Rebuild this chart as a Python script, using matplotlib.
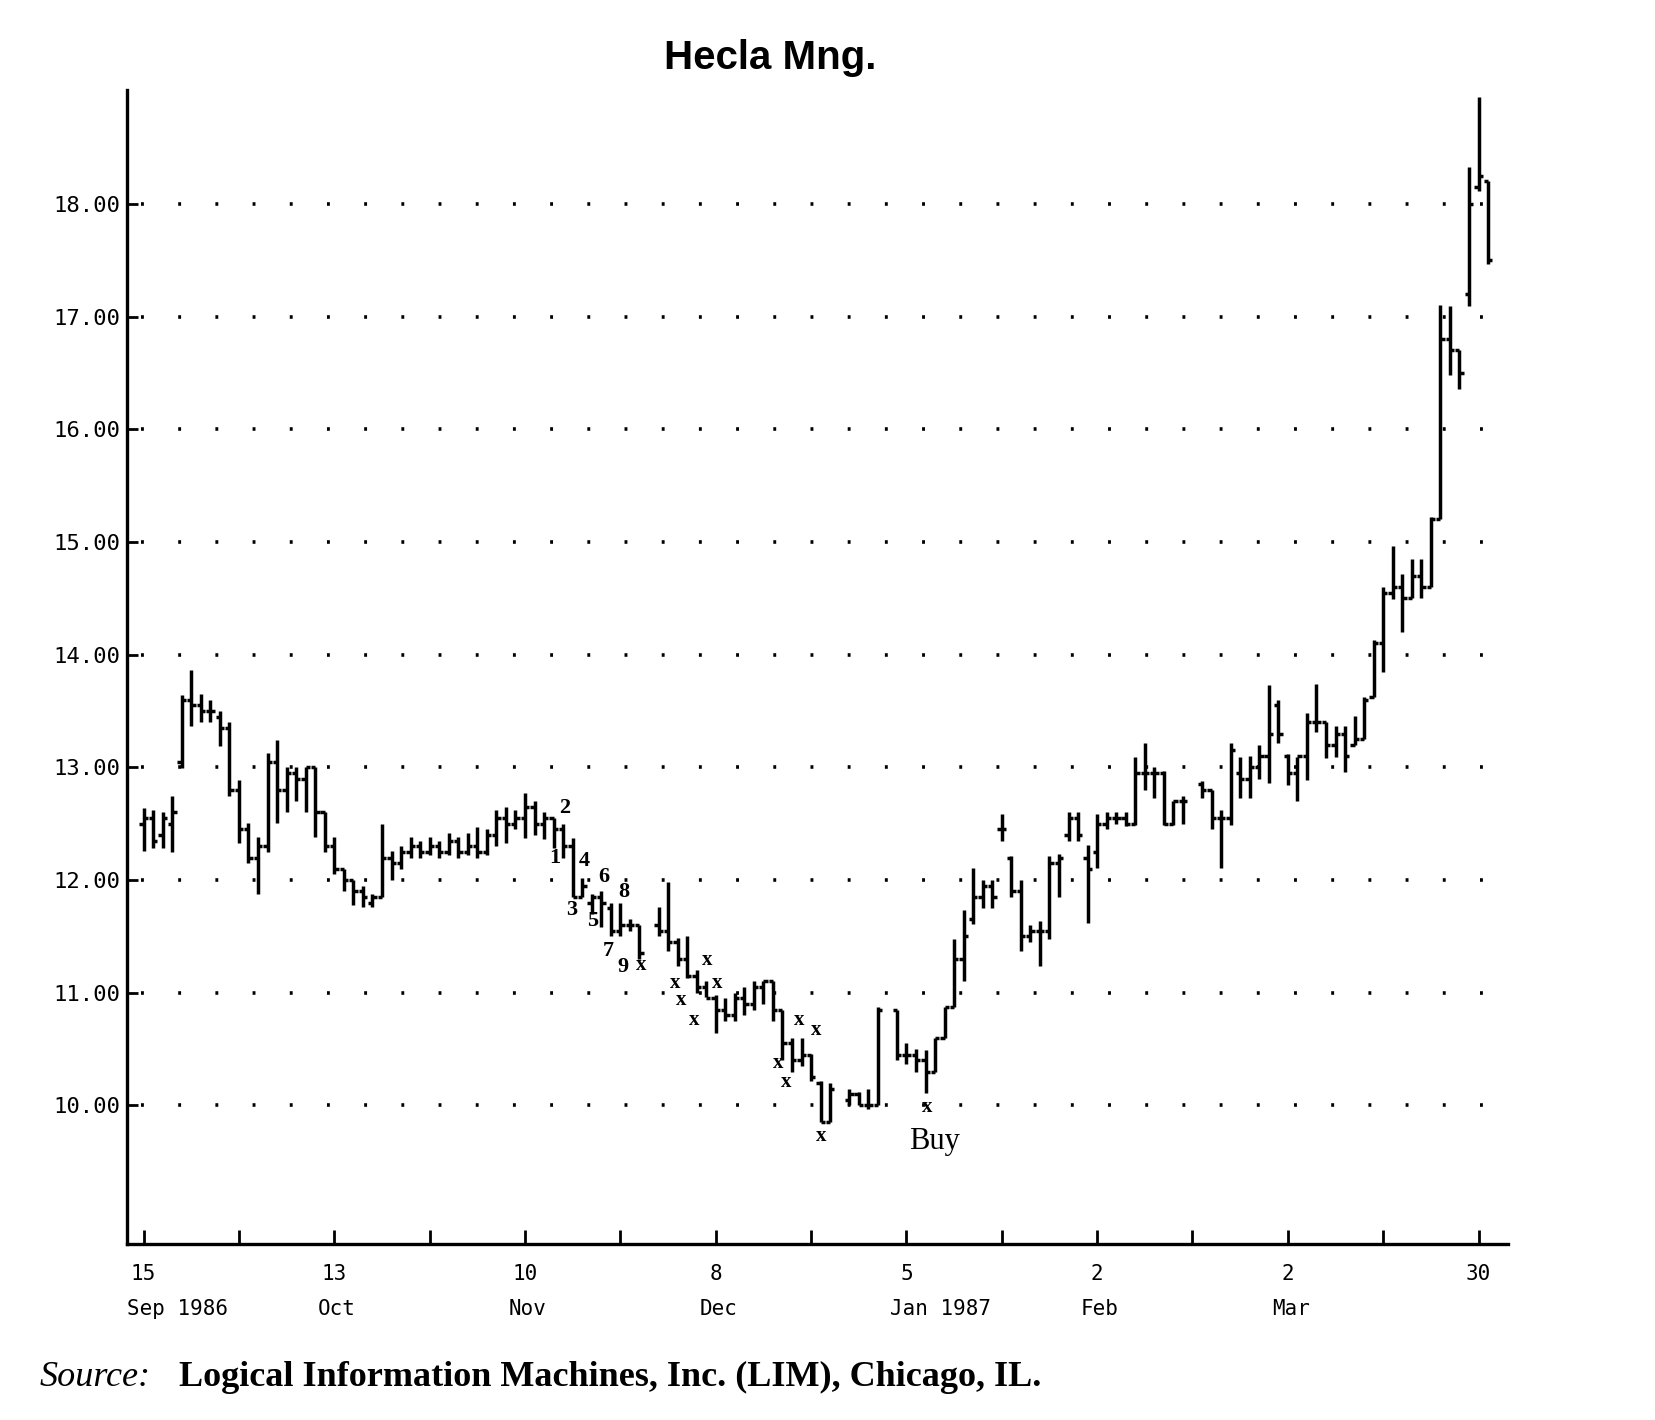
import numpy as np
import matplotlib.pyplot as plt

# daily bars, trading-day index from Mon 15 Sep 1986 (NaN = market holiday)
nan = np.nan
opens = [12.50, 12.55, 12.40, 12.50, 13.05, 13.60, 13.55, 13.50, 13.45, 13.35,
         12.80, 12.45, 12.20, 12.30, 13.05, 12.80, 12.95, 12.90, 13.00, 12.60,
         12.30, 12.10, 12.00, 11.90, 11.80, 11.85, 12.20, 12.15, 12.25, 12.30,
         12.25, 12.30, 12.25, 12.35, 12.25, 12.30, 12.25, 12.40, 12.55, 12.50,
         12.55, 12.65, 12.50, 12.55, 12.45, 12.30, 11.85, 11.80, 11.85, 11.75,
         11.55, 11.60, 11.60, nan, 11.60, 11.55, 11.45, 11.30, 11.15, 11.05,
         10.95, 10.85, 10.80, 10.95, 10.90, 11.05, 11.10, 10.85, 10.55, 10.40,
         10.45, 10.20, 9.85, nan, 10.05, 10.10, 10.00, 10.00, nan, 10.85,
         10.45, 10.45, 10.40, 10.30, 10.60, 10.87, 11.30, 11.65, 11.85, 11.95,
         12.45, 12.20, 11.90, 11.50, 11.55, 11.55, 12.15, 12.40, 12.55, 12.20,
         12.25, 12.50, 12.55, 12.55, 12.50, 12.95, 12.95, 12.95, 12.50, 12.70,
         nan, 12.85, 12.80, 12.55, 12.55, 12.95, 12.90, 13.00, 13.10, 13.55,
         13.10, 12.95, 13.10, 13.40, 13.40, 13.20, 13.30, 13.20, 13.25, 13.62,
         14.10, 14.55, 14.60, 14.50, 14.70, 14.60, 15.20, 16.80, 16.70, 17.20,
         18.15, 18.20]
highs = [12.64, 12.62, 12.60, 12.75, 13.64, 13.86, 13.65, 13.60, 13.50, 13.40,
         12.89, 12.51, 12.38, 13.13, 13.24, 13.00, 13.00, 13.00, 13.00, 12.60,
         12.38, 12.10, 12.00, 11.95, 11.88, 12.50, 12.26, 12.30, 12.38, 12.35,
         12.38, 12.35, 12.42, 12.38, 12.42, 12.47, 12.45, 12.62, 12.65, 12.62,
         12.77, 12.70, 12.60, 12.55, 12.50, 12.37, 12.02, 11.88, 11.90, 11.80,
         11.80, 11.65, 11.60, nan, 11.76, 11.98, 11.49, 11.50, 11.20, 11.10,
         10.98, 10.95, 11.00, 11.05, 11.10, 11.10, 11.10, 10.85, 10.60, 10.60,
         10.46, 10.22, 10.20, nan, 10.15, 10.12, 10.15, 10.87, nan, 10.85,
         10.55, 10.50, 10.49, 10.60, 10.87, 11.48, 11.73, 12.11, 12.00, 12.00,
         12.59, 12.21, 12.00, 11.60, 11.64, 12.21, 12.23, 12.60, 12.60, 12.31,
         12.59, 12.60, 12.60, 12.60, 13.09, 13.22, 13.00, 12.97, 12.70, 12.75,
         nan, 12.88, 12.80, 12.62, 13.22, 13.09, 13.10, 13.20, 13.73, 13.60,
         13.12, 13.09, 13.48, 13.74, 13.40, 13.37, 13.37, 13.46, 13.62, 14.13,
         14.60, 14.96, 14.72, 14.85, 14.85, 15.22, 17.10, 17.09, 16.70, 18.33,
         18.95, 18.20]
lows = [12.26, 12.28, 12.28, 12.25, 12.99, 13.37, 13.40, 13.40, 13.19, 12.75,
        12.33, 12.15, 11.88, 12.25, 12.51, 12.60, 12.70, 12.60, 12.38, 12.25,
        12.05, 11.90, 11.78, 11.76, 11.76, 11.85, 12.00, 12.10, 12.20, 12.20,
        12.22, 12.20, 12.22, 12.20, 12.22, 12.20, 12.22, 12.30, 12.33, 12.45,
        12.37, 12.40, 12.36, 12.28, 12.20, 11.85, 11.85, 11.70, 11.58, 11.50,
        11.50, 11.55, 11.30, nan, 11.50, 11.37, 11.24, 11.13, 11.00, 10.96,
        10.64, 10.75, 10.75, 10.80, 10.85, 10.90, 10.75, 10.40, 10.30, 10.35,
        10.22, 9.85, 9.85, nan, 10.00, 10.00, 9.97, 10.00, nan, 10.40,
        10.37, 10.30, 10.11, 10.30, 10.60, 10.87, 11.10, 11.61, 11.75, 11.75,
        12.35, 11.85, 11.37, 11.45, 11.24, 11.48, 11.85, 12.35, 12.35, 11.62,
        12.11, 12.45, 12.50, 12.48, 12.49, 12.80, 12.73, 12.49, 12.49, 12.50,
        nan, 12.73, 12.45, 12.11, 12.49, 12.73, 12.73, 12.90, 12.86, 13.22,
        12.84, 12.70, 12.89, 13.31, 13.08, 13.09, 12.96, 13.20, 13.25, 13.62,
        13.85, 14.49, 14.20, 14.50, 14.50, 14.60, 15.20, 16.48, 16.36, 17.09,
        18.11, 17.47]
closes = [12.55, 12.35, 12.55, 12.60, 13.60, 13.55, 13.50, 13.50, 13.35, 12.80,
          12.45, 12.20, 12.30, 13.05, 12.80, 12.95, 12.90, 13.00, 12.60, 12.30,
          12.10, 12.00, 11.90, 11.85, 11.85, 12.20, 12.15, 12.25, 12.30, 12.25,
          12.30, 12.25, 12.35, 12.25, 12.30, 12.25, 12.40, 12.55, 12.50, 12.55,
          12.65, 12.50, 12.55, 12.45, 12.30, 11.85, 11.95, 11.85, 11.80, 11.55,
          11.60, 11.60, 11.35, nan, 11.55, 11.45, 11.30, 11.15, 11.05, 10.95,
          10.85, 10.80, 10.95, 10.90, 11.05, 11.10, 10.85, 10.55, 10.40, 10.45,
          10.25, 9.85, 10.15, nan, 10.10, 10.00, 10.00, 10.85, nan, 10.45,
          10.45, 10.40, 10.30, 10.60, 10.87, 11.30, 11.50, 11.85, 11.95, 11.85,
          12.45, 11.90, 11.50, 11.55, 11.55, 12.15, 12.20, 12.55, 12.40, 12.10,
          12.50, 12.55, 12.55, 12.50, 12.95, 12.95, 12.95, 12.50, 12.70, 12.70,
          nan, 12.80, 12.55, 12.55, 13.15, 12.90, 13.00, 13.10, 13.30, 13.30,
          12.95, 13.10, 13.40, 13.40, 13.20, 13.30, 13.10, 13.25, 13.60, 14.10,
          14.55, 14.60, 14.50, 14.70, 14.60, 15.20, 16.80, 16.70, 16.50, 18.00,
          18.25, 17.50]

day_labels = ['15', '', '13', '', '10', '', '8', '', '5', '', '2', '', '2', '', '30']
month_labels = ['Sep 1986', 'Oct', 'Nov', 'Dec', 'Jan 1987', 'Feb', 'Mar']
price_levels = [10, 11, 12, 13, 14, 15, 16, 17, 18]

# wave count and "x" marks written on the chart: (text, day index, price)
marks = [('2', 44.2, 12.64), ('1', 43.1, 12.20), ('4', 46.2, 12.17),
         ('3', 44.9, 11.73), ('6', 48.3, 12.03), ('5', 47.1, 11.64),
         ('8', 50.4, 11.89), ('7', 48.7, 11.37), ('9', 50.3, 11.23),
         ('x', 52.2, 11.25), ('x', 55.7, 11.09), ('x', 56.4, 10.94),
         ('x', 57.7, 10.76), ('x', 59.1, 11.29), ('x', 60.2, 11.09),
         ('x', 66.6, 10.38), ('x', 67.4, 10.21), ('x', 68.8, 10.76),
         ('x', 70.5, 10.67), ('x', 71.1, 9.73), ('x', 82.2, 9.99)]

o = np.array(opens)
h = np.array(highs)
l = np.array(lows)
c = np.array(closes)
x = np.arange(len(o))
ok = ~np.isnan(c)

fig = plt.figure(figsize=(16.56, 14.2), dpi=100)
ax = fig.add_axes([0.0767, 0.1239, 0.834, 0.8127])

lw = 2.5
ax.vlines(x[ok], l[ok], h[ok], color='black', lw=lw)
ax.hlines(o[ok], x[ok] - 0.45, x[ok], color='black', lw=lw)
ax.hlines(c[ok], x[ok], x[ok] + 0.45, color='black', lw=lw)

# dotted price grid
ax.hlines(price_levels, -0.3, 141.8, color='black', lw=2.6,
          linestyles=(0, (0.8, 9.5)))

ax.set_xlim(-1.74, 143.1)
ax.set_ylim(8.77, 19.01)

for s in ['top', 'right']:
    ax.spines[s].set_visible(False)
for s in ['left', 'bottom']:
    ax.spines[s].set_linewidth(2.4)

ax.set_yticks(price_levels)
ax.set_yticklabels(['%.2f' % v for v in price_levels],
                   family='DejaVu Sans Mono', fontsize=16)
ax.set_xticks(np.arange(0, 141, 10))
ax.set_xticklabels(day_labels, family='DejaVu Sans Mono', fontsize=15)
ax.tick_params(axis='y', direction='in', length=8, width=2, pad=5)
ax.tick_params(axis='x', direction='in', length=10, width=2, pad=14)

for k, m in enumerate(month_labels):
    ax.text(k * 20 - 1.7, -0.056, m, transform=ax.get_xaxis_transform(),
            ha='left', va='center', family='DejaVu Sans Mono', fontsize=15)

for t, xi, yi in marks:
    ax.text(xi, yi, t, ha='center', va='center', family='Liberation Serif',
            fontweight='bold', fontsize=16 if t != 'x' else 15)
ax.text(82.9, 9.68, 'Buy', ha='center', va='center',
        family='Liberation Serif', fontsize=22)

fig.text(0.465, 0.959, 'Hecla Mng.', ha='center', va='center',
         family='Liberation Sans', fontweight='bold', fontsize=29)
fig.text(0.024, 0.03, 'Source:', ha='left', va='center',
         family='Liberation Serif', style='italic', fontsize=26)
fig.text(0.108, 0.03, 'Logical Information Machines, Inc. (LIM), Chicago, IL.',
         ha='left', va='center', family='Liberation Serif', fontweight='bold',
         fontsize=26)

fig.savefig('out.png', dpi=100)
